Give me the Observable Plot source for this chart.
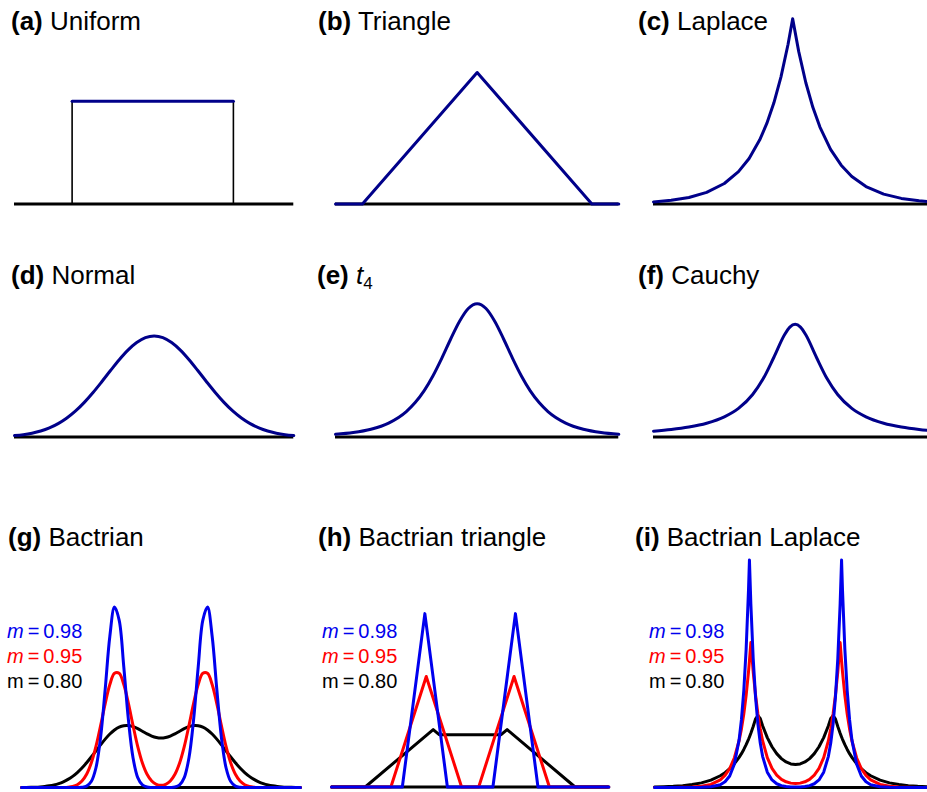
<!DOCTYPE html>
<html><head><meta charset="utf-8">
<script src="https://cdn.jsdelivr.net/npm/d3@7"></script>
<script src="https://cdn.jsdelivr.net/npm/@observablehq/plot@0.6"></script>
<style>
html,body{margin:0;padding:0;background:#fff;overflow:hidden;}
#page{position:relative;width:927px;height:792px;overflow:hidden;font-family:"Liberation Sans",Arial,Helvetica,sans-serif;}
.title{position:absolute;font-size:26px;line-height:26px;white-space:nowrap;color:#000;}
.title sub{font-size:17px;vertical-align:-5px;line-height:0;}
.leg{position:absolute;font-size:20px;line-height:20px;white-space:nowrap;}
</style></head><body><div id="page"></div>
<script>
// ---------- data ----------
// (a) Uniform
const aUniformX = [-2.35, 2.27];
const aUniformHeight = 0.411;
// (b) Triangle
const bTriangleX = [-4, -3.24, 0, 3.24, 4];
const bTriangleY = [0, 0, 0.526, 0, 0];
// (c) Laplace
const cLaplaceX = [-4, -3.5, -3, -2.5, -2, -1.6, -1.3, -1.0, -0.8, -0.6, -0.4, -0.2, -0.07, 0.1, 0.3, 0.5, 0.7, 1.0, 1.3, 1.6, 2, 2.5, 3, 3.5, 4];
const cLaplaceY = [0.0084, 0.0148, 0.0262, 0.0463, 0.0820, 0.1293, 0.1821, 0.2565, 0.3222, 0.4048, 0.5086, 0.6389, 0.741, 0.6104, 0.4859, 0.3867, 0.3078, 0.2186, 0.1552, 0.1103, 0.0698, 0.0395, 0.0223, 0.0126, 0.0071];
// (d) Normal
const dNormalX = [-4, -3.75, -3.5, -3.25, -3, -2.75, -2.5, -2.25, -2, -1.75, -1.5, -1.25, -1, -0.75, -0.5, -0.25, 0, 0.25, 0.5, 0.75, 1, 1.25, 1.5, 1.75, 2, 2.25, 2.5, 2.75, 3, 3.25, 3.5, 3.75, 4];
const dNormalY = [0.0056, 0.0093, 0.0152, 0.0238, 0.0362, 0.0533, 0.0758, 0.1041, 0.1384, 0.1779, 0.2211, 0.2658, 0.3091, 0.3475, 0.3778, 0.3973, 0.404, 0.3973, 0.3778, 0.3475, 0.3091, 0.2658, 0.2211, 0.1779, 0.1384, 0.1041, 0.0758, 0.0533, 0.0362, 0.0238, 0.0152, 0.0093, 0.0056];
// (e) t4
const eT4X = [-4, -3.5, -3, -2.5, -2, -1.75, -1.5, -1.25, -1, -0.75, -0.5, -0.25, 0, 0.25, 0.5, 0.75, 1, 1.25, 1.5, 1.75, 2, 2.5, 3, 3.5, 4];
const eT4Y = [0.0108, 0.0180, 0.0312, 0.0558, 0.1018, 0.1376, 0.1846, 0.2441, 0.3147, 0.391, 0.462, 0.514, 0.533, 0.514, 0.462, 0.391, 0.3147, 0.2441, 0.1846, 0.1376, 0.1018, 0.0558, 0.0312, 0.0180, 0.0108];
// (f) Cauchy
const fCauchyX = [-4, -3.5, -3, -2.5, -2, -1.6, -1.2, -0.9, -0.6, -0.3, -0.15, 0, 0.15, 0.3, 0.6, 0.9, 1.2, 1.6, 2, 2.5, 3, 3.5, 4];
const fCauchyY = [0.0233, 0.0299, 0.0398, 0.0551, 0.0806, 0.1144, 0.1699, 0.2336, 0.3190, 0.4087, 0.4396, 0.451, 0.4396, 0.4087, 0.3190, 0.2336, 0.1699, 0.1144, 0.0806, 0.0551, 0.0398, 0.0299, 0.0233];
// (g) Bactrian
const gX = [-3.0,-2.9,-2.8,-2.7,-2.6,-2.5,-2.4,-2.3,-2.2,-2.1,-2.0,-1.9,-1.8,-1.7,-1.6,-1.5,-1.4,-1.3,-1.2,-1.1,-1.0,-0.9,-0.8,-0.7,-0.6,-0.5,-0.4,-0.3,-0.2,-0.1,0,0.1,0.2,0.3,0.4,0.5,0.6,0.7,0.8,0.9,1.0,1.1,1.2,1.3,1.4,1.5,1.6,1.7,1.8,1.9,2.0,2.1,2.2,2.3,2.4,2.5,2.6,2.7,2.8,2.9,3.0];
const gBlue98 = [0,0,0,0,0,0,0,0,0,0,0,0,0.0002,0.0014,0.0078,0.0330,0.1080,0.2750,0.5440,0.8360,0.9970,0.9250,0.6660,0.3720,0.1620,0.0547,0.0143,0.0029,0.0005,0.0001,0,0.0001,0.0005,0.0029,0.0143,0.0547,0.1620,0.3720,0.6660,0.9250,0.9970,0.8360,0.5440,0.2750,0.1080,0.0330,0.0078,0.0014,0.0002,0,0,0,0,0,0,0,0,0,0,0,0];
const gRed95 = [0,0,0,0,0,0,0,0,0.0002,0.0007,0.0022,0.0062,0.0157,0.0357,0.0732,0.1355,0.2260,0.3410,0.4637,0.5690,0.6310,0.6310,0.5690,0.4637,0.3410,0.2260,0.1355,0.0733,0.0364,0.0180,0.0125,0.0180,0.0364,0.0733,0.1355,0.2260,0.3410,0.4637,0.5690,0.6310,0.6310,0.5690,0.4637,0.3410,0.2260,0.1355,0.0732,0.0357,0.0157,0.0062,0.0022,0.0007,0.0002,0,0,0,0,0,0,0,0];
const gBlack80 = [0.0004,0.0007,0.0013,0.0022,0.0037,0.0060,0.0095,0.0146,0.0218,0.0318,0.0450,0.0619,0.0829,0.1079,0.1367,0.1685,0.2020,0.2356,0.2675,0.2956,0.3182,0.3339,0.3420,0.3425,0.3363,0.3252,0.3112,0.2968,0.2845,0.2763,0.2733,0.2763,0.2845,0.2968,0.3112,0.3252,0.3363,0.3425,0.3420,0.3339,0.3182,0.2956,0.2675,0.2356,0.2020,0.1685,0.1367,0.1079,0.0829,0.0619,0.0450,0.0318,0.0218,0.0146,0.0095,0.0060,0.0037,0.0022,0.0013,0.0007,0.0004];
// (h) Bactrian triangle
const hBlue98X = [-3, -1.4675, -0.98, -0.4925, 0.4925, 0.98, 1.4675, 3];
const hBlue98Y = [0, 0, 1.026, 0, 0, 1.026, 0, 0];
const hRed95X = [-3, -1.715, -0.95, -0.185, 0.185, 0.95, 1.715, 3];
const hRed95Y = [0, 0, 0.654, 0, 0, 0.654, 0, 0];
const hBlack80X = [-3, -2.27, -0.8, -0.67, 0.67, 0.8, 2.27, 3];
const hBlack80Y = [0, 0, 0.340, 0.310, 0.310, 0.340, 0, 0];
// (i) Bactrian Laplace
const iX = [-3.0,-2.8,-2.6,-2.4,-2.2,-2.0,-1.8,-1.6,-1.5,-1.4,-1.3,-1.2,-1.15,-1.1,-1.05,-1.0,-0.98,-0.95,-0.9,-0.85,-0.8,-0.75,-0.7,-0.6,-0.5,-0.4,-0.3,-0.2,-0.1,0,0.1,0.2,0.3,0.4,0.5,0.6,0.7,0.75,0.8,0.85,0.9,0.95,0.98,1.0,1.05,1.1,1.15,1.2,1.3,1.4,1.5,1.6,1.8,2.0,2.2,2.4,2.6,2.8,3.0];
const iBlue98 = [0,0,0,0.0001,0.0003,0.0013,0.0052,0.0217,0.0441,0.0897,0.1829,0.3721,0.5310,0.7574,1.0804,1.5415,1.777,1.4358,1.0063,0.7055,0.4945,0.3465,0.2429,0.1193,0.0586,0.0288,0.0143,0.0074,0.0042,0.0034,0.0042,0.0074,0.0143,0.0288,0.0586,0.1193,0.2429,0.3465,0.4945,0.7055,1.0063,1.4358,1.777,1.5415,1.0804,0.7574,0.5310,0.3721,0.1829,0.0897,0.0441,0.0217,0.0052,0.0013,0.0003,0.0001,0,0,0];
const iRed95 = [0.0001,0.0003,0.0006,0.0016,0.0039,0.0097,0.0241,0.0596,0.0937,0.1475,0.2320,0.3648,0.4576,0.5740,0.7197,0.9026,0.9883,1.132,0.9026,0.7200,0.5747,0.4581,0.3655,0.2330,0.1491,0.0962,0.0636,0.0441,0.0338,0.0306,0.0338,0.0441,0.0636,0.0962,0.1491,0.2330,0.3655,0.4581,0.5747,0.7200,0.9026,1.132,0.9883,0.9026,0.7197,0.5740,0.4576,0.3648,0.2320,0.1475,0.0937,0.0596,0.0241,0.0097,0.0039,0.0016,0.0006,0.0003,0.0001];
const iBlack80 = [0.0033,0.0053,0.0085,0.0139,0.0223,0.0356,0.0571,0.0915,0.1158,0.1465,0.1855,0.2348,0.2641,0.2973,0.3344,0.3762,0.3944,0.4233,0.4762,0.5358,0.5600,0.5389,0.4826,0.3895,0.3180,0.2643,0.2254,0.1990,0.1838,0.1788,0.1838,0.1990,0.2254,0.2643,0.3180,0.3895,0.4826,0.5389,0.5600,0.5358,0.4762,0.4233,0.3944,0.3762,0.3344,0.2973,0.2641,0.2348,0.1855,0.1465,0.1158,0.0915,0.0571,0.0356,0.0223,0.0139,0.0085,0.0053,0.0033];
// labels
const panelLetters = ["a","b","c","d","e","f","g","h","i"];
const panelNames = ["Uniform","Triangle","Laplace","Normal","t4","Cauchy","Bactrian","Bactrian triangle","Bactrian Laplace"];
const mValues = ["0.98","0.95","0.80"];

// ---------- styling / layout ----------
const NAVY = "#00008a", BLUE = "#0000ee", RED = "#ff0000", BLACK = "#000000";
const page = document.getElementById("page");
const M = {l: 3, r: 3, t: 4, b: 4};

const pts = (xs, ys) => xs.map((x, i) => [x, ys[i]]);

function panel(cfg, marks) {
  const innerH = cfg.ymax * cfg.ppu;
  const w = cfg.x1 - cfg.x0;
  const svg = Plot.plot({
    width: w + M.l + M.r, height: innerH + M.t + M.b,
    marginLeft: M.l, marginRight: M.r, marginTop: M.t, marginBottom: M.b,
    style: {background: "transparent", overflow: "visible", maxWidth: "none"},
    x: {domain: cfg.domain, axis: null},
    y: {domain: [0, cfg.ymax], axis: null},
    marks: [Plot.ruleY([0], {stroke: BLACK, strokeWidth: 3}), ...marks]
  });
  svg.style.position = "absolute";
  svg.style.left = (cfg.x0 - M.l) + "px";
  svg.style.top = (cfg.base - innerH - M.t) + "px";
  page.appendChild(svg);
}
const ln = (xs, ys, stroke, curve = "linear") =>
  Plot.line(pts(xs, ys), {stroke, strokeWidth: 3, curve, strokeLinejoin: "round"});

const R1 = 203.5, R2 = 436, R3 = 787;
// (a)
panel({x0: 14, x1: 293.3, base: R1, ppu: 250, ymax: 0.75, domain: [-4, 4]}, [
  Plot.ruleX(aUniformX, {y1: 0, y2: aUniformHeight, stroke: BLACK, strokeWidth: 1.6}),
  ln(aUniformX, aUniformX.map(() => aUniformHeight), NAVY)
]);
// (b)
panel({x0: 335, x1: 618.3, base: R1, ppu: 250, ymax: 0.75, domain: [-4, 4]}, [ln(bTriangleX, bTriangleY, NAVY)]);
// (c)
panel({x0: 652.7, x1: 936, base: R1, ppu: 250, ymax: 0.75, domain: [-4, 4]}, [ln(cLaplaceX, cLaplaceY, NAVY)]);
// (d)
panel({x0: 14, x1: 293.3, base: R2, ppu: 250, ymax: 0.55, domain: [-4, 4]}, [ln(dNormalX, dNormalY, NAVY, "monotone-x")]);
// (e)
panel({x0: 335, x1: 618.3, base: R2, ppu: 250, ymax: 0.55, domain: [-4, 4]}, [ln(eT4X, eT4Y, NAVY, "monotone-x")]);
// (f)
panel({x0: 652.7, x1: 936, base: R2, ppu: 250, ymax: 0.55, domain: [-4, 4]}, [ln(fCauchyX, fCauchyY, NAVY, "monotone-x")]);
// (g)
panel({x0: 21, x1: 300, base: R3, ppu: 181, ymax: 1.05, domain: [-3, 3]}, [
  ln(gX, gBlack80, BLACK, "catmull-rom"),
  ln(gX, gRed95, RED, "catmull-rom"),
  ln(gX, gBlue98, BLUE, "catmull-rom")
]);
// (h)
panel({x0: 331, x1: 608.3, base: R3, ppu: 169, ymax: 1.08, domain: [-3, 3]}, [
  ln(hBlack80X, hBlack80Y, BLACK),
  ln(hRed95X, hRed95Y, RED),
  ln(hBlue98X, hBlue98Y, BLUE)
]);
// (i)
panel({x0: 654, x1: 936, base: R3, ppu: 128, ymax: 1.82, domain: [-3, 3]}, [
  ln(iX, iBlack80, BLACK),
  ln(iX, iRed95, RED),
  ln(iX, iBlue98, BLUE)
]);

// ---------- text ----------
const titlePos = [[11, 30], [318, 30], [638, 30], [11, 284], [317, 284], [638, 284], [8, 546], [318, 546], [635, 546]];
panelLetters.forEach((L, k) => {
  const d = document.createElement("div");
  d.className = "title";
  d.style.left = titlePos[k][0] + "px";
  d.style.top = (titlePos[k][1] - 22) + "px";
  const name = panelNames[k] === "t4" ? "<i>t</i><sub>4</sub>" : panelNames[k];
  d.innerHTML = "<b>(" + L + ")</b> " + name;
  page.appendChild(d);
});
const legX = [7, 322, 649];
const legBase = [638, 663, 688];
const legColor = [BLUE, RED, BLACK];
legX.forEach(x => {
  mValues.forEach((v, j) => {
    const d = document.createElement("div");
    d.className = "leg";
    d.style.left = x + "px";
    d.style.top = (legBase[j] - 17) + "px";
    d.style.color = legColor[j];
    d.innerHTML = (j < 2 ? "<i>m</i>" : "m") + "\u2009=\u2009" + v;
    page.appendChild(d);
  });
});
</script>
</body></html>
